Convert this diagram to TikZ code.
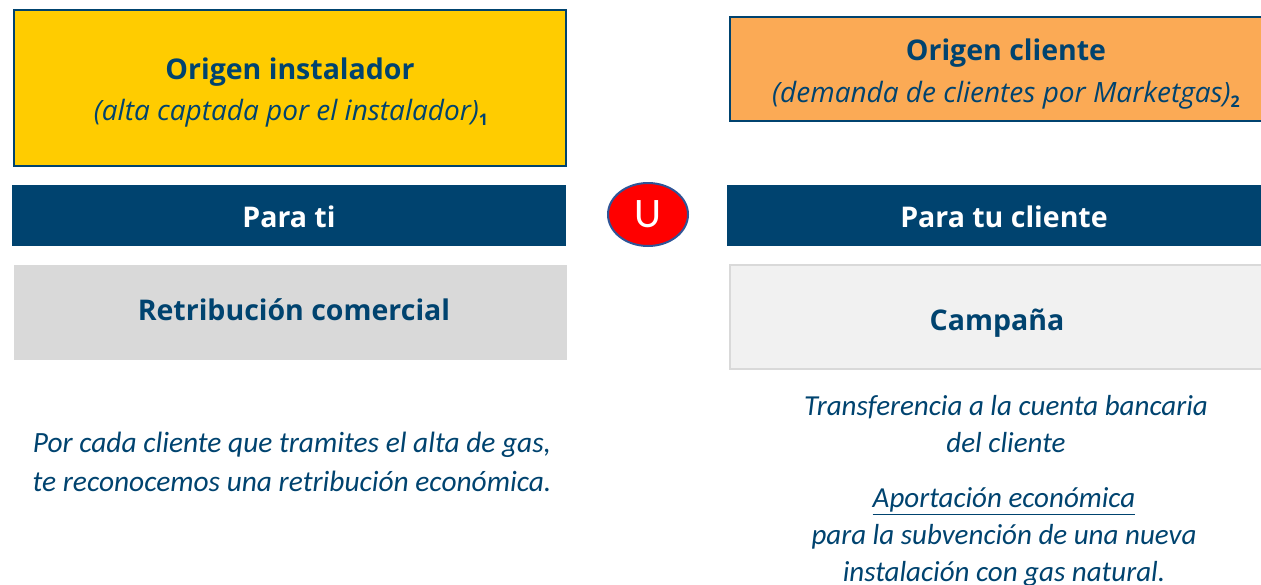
\documentclass[tikz,border=0pt]{standalone}
\usepackage{fontspec}
\usetikzlibrary{shapes.geometric}
\setmainfont{Carlito}
\newfontfamily\hd{Open Sans}
\definecolor{navy}{HTML}{00436F}
\definecolor{ytx}{HTML}{FFCC00}
\definecolor{otx}{HTML}{FBAA55}
\definecolor{gA}{HTML}{D9D9D9}
\definecolor{gB}{HTML}{F1F1F1}
\definecolor{ringblue}{HTML}{2F5597}
\tikzset{
  panel/.style={inner sep=0pt, outer sep=0pt},
  head/.style={font=\hd\bfseries\fontsize{28.5}{32}\selectfont, text=navy},
  headw/.style={font=\hd\bfseries\fontsize{28.5}{32}\selectfont, text=white},
  sub/.style={font=\hd\itshape\fontsize{28}{32}\selectfont, text=navy},
  body/.style={font=\itshape\fontsize{29}{36.5}\selectfont, text=navy, align=center},
  bodyl/.style={font=\itshape\fontsize{29.4}{39.5}\selectfont, text=navy, align=center},
}
\newcommand{\subnum}[1]{\raisebox{-0.35ex}{\hd\bfseries\upshape\fontsize{16}{16}\selectfont #1}}
\begin{document}
\begin{tikzpicture}[x=1pt,y=-1pt]
\useasboundingbox (0,0) rectangle (1261,584);
% panels
\draw[navy, line width=2pt, fill=ytx] (14,10) rectangle (566,166);
\draw[navy, line width=2pt, fill=otx] (730,17) rectangle (1264,121);
\fill[navy] (12,185) rectangle (566,246);
\fill[navy] (727,185) rectangle (1262,246);
\fill[gA] (14,265) rectangle (567,360);
\draw[gA, line width=1.5pt, fill=gB] (730,265) rectangle (1264,369);
% ellipse
\node[draw=ringblue, line width=2pt, fill=red, ellipse, minimum width=80pt, minimum height=63pt, inner sep=0pt,
      font=\fontsize{42}{42}\selectfont, text=white] (u) at (648,214.5) {U};
% texts
\node[head] (t1) at (290,72.5) {Origen instalador};
\node[sub] (t2) at (291,113) {(alta captada por el instalador)\subnum{1}};
\node[head] (t3) at (1006,53) {Origen cliente};
\node[sub] (t4) at (1006,95) {(demanda de clientes por Marketgas)\subnum{2}};
\node[headw] (t5) at (289,217) {Para ti};
\node[headw] (t6) at (1004,217) {Para tu cliente};
\node[head] (t7) at (294,310) {Retribución comercial};
\node[head] (t8) at (997,323) {Campaña};
\node[bodyl] (t9) at (292,462) {Por cada cliente que tramites el alta de gas,\\te reconocemos una retribución económica.};
\node[body] (t10) at (1006,424) {Transferencia a la cuenta bancaria\\del cliente};
\node[body,font=\itshape\fontsize{29}{37}\selectfont] (t11) at (1004,537.5) {\underline{Aportación económica}\\para la subvención de una nueva\\instalación con gas natural.};
\end{tikzpicture}
\end{document}
